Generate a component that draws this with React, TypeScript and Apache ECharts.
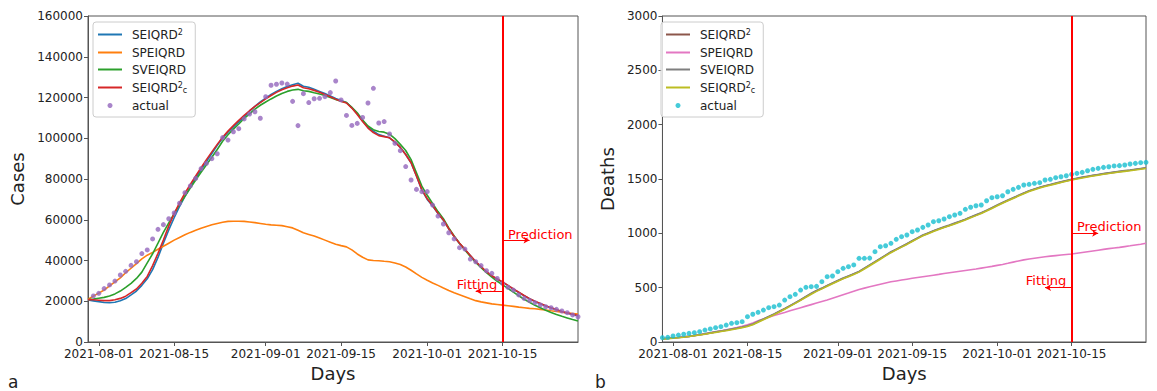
import React, { useEffect, useRef } from 'react';
import * as echarts from 'echarts';

// ---------- categories ----------
const START_UTC = Date.UTC(2021, 6, 30);
const DATES: string[] = Array.from({ length: 92 }, (_, i) =>
  new Date(START_UTC + i * 86400000).toISOString().slice(0, 10)
);
const TICK_DATES = ['2021-08-01', '2021-08-15', '2021-09-01', '2021-09-15', '2021-10-01', '2021-10-15'];
const SPLIT_DATE = '2021-10-15';

// ---------- panel a: cases ----------
const CASES_SEIQRD2 = [
  20600, 20200, 19800, 19400, 19300, 19500, 20200, 21300, 23100, 25000, 27800, 31000, 35500, 41500, 48500, 55000,
  61000, 66500, 71500, 76000, 80500, 84500, 88500, 92500, 96500, 100000, 103000, 105500, 108000, 110500, 113300, 115600,
  117800, 119700, 121500, 123000, 124300, 125400, 126300, 127000, 125500, 125000, 124000, 123000, 122000, 120800, 119500, 118500,
  117500, 115000, 112000, 108500, 105500, 103500, 101800, 101000, 100200, 98000, 95500, 92000, 88000, 81500,
  74500, 70000, 66700, 63000, 59700, 55500, 51700, 48400, 45400, 42400, 39400, 36900, 34400, 32400, 30800, 29400,
  27700, 25900, 24300, 22700, 21200, 19900, 18800, 17700, 16700, 15800, 14900, 14100, 13500, 12900,
];
const CASES_SPEIQRD = [
  21000, 22500, 24000, 25500, 27500, 29500, 31500, 34000, 36200, 38500, 40800, 42600, 44000, 45500, 47000, 48500,
  50000, 51300, 52600, 53800, 54800, 55800, 56700, 57500, 58200, 58800, 59200, 59300, 59300, 59200, 58900, 58600,
  58200, 57800, 57500, 57300, 57100, 56600, 56000, 54800, 53600, 52800, 52000, 51000, 50000, 49000, 48000, 47300,
  46700, 45200, 43200, 41600, 40300, 40000, 39900, 39600, 39400, 38800, 38000, 36800, 35200, 33400,
  31700, 30300, 29000, 27800, 26500, 25300, 24200, 23200, 22200, 21200, 20300, 19700, 19200, 18700, 18400, 18100,
  17800, 17500, 17100, 16800, 16500, 16300, 16000, 15700, 15300, 15000, 14600, 14300, 14000, 13700,
];
const CASES_SVEIQRD = [
  20800, 21100, 21500, 21900, 22600, 23600, 25000, 26800, 28800, 31200, 34300, 38800, 43300, 48500, 53800, 58500,
  63000, 67500, 71500, 75500, 79500, 83300, 87000, 90700, 94500, 98500, 101700, 104500, 107000, 109700, 112000, 114300,
  116200, 117800, 119300, 120700, 122000, 123000, 123700, 124000, 123300, 123000, 122300, 121700, 121000, 120000, 119000, 118200,
  117500, 115200, 112500, 109000, 106000, 104200, 103300, 103000, 102000, 99800, 97000, 94000, 89500, 83000,
  76500, 72000, 68000, 64000, 60500, 56000, 52000, 48500, 45200, 42000, 39000, 36500, 34000, 31800, 29800, 28000,
  26300, 24500, 22700, 21000, 19500, 18000, 16800, 15600, 14500, 13500, 12600, 11800, 11000, 10300,
];
const CASES_SEIQRD2C = [
  20800, 20700, 20500, 20300, 20300, 20700, 21400, 22500, 24200, 26000, 28800, 32200, 37500, 43500, 50000, 57000,
  63000, 68300, 73000, 77300, 81500, 85500, 89500, 93300, 97000, 100500, 103500, 106200, 108800, 111200, 113500, 115600,
  117500, 119300, 121000, 122500, 123800, 124800, 125600, 126100, 124800, 124300, 123500, 122600, 121500, 120400, 119200, 118200,
  117300, 114800, 111700, 108200, 105000, 102800, 101300, 100800, 100200, 98200, 95500, 92000, 88000, 81500,
  74800, 70300, 67000, 63200, 59900, 55600, 51800, 48500, 45500, 42500, 39500, 37000, 34500, 32500, 30900, 29500,
  27800, 26000, 24400, 22800, 21300, 20000, 18900, 17800, 16800, 15900, 15000, 14200, 13600, 13000,
];
const CASES_ACTUAL: (number | null)[] = [
  null, 22600, 23900, 26200, 28000, 29900, 32900, 34700, 37600, 39400, 43400, 45200, 50600, 55300, 57600, 60500,
  63300, 68100, 73300, 76600, 80300, 85100, 87700, 90000, 92400, 100300, 99100, 103200, 104700, 109500, 111900, 113000,
  109800, 120400, 126000, 126500, 127100, 126600, 118100, 106200, 121900, 117500, 119400, 119600, 120400, 122400, 128100, 118800,
  111200, 106300, 107300, 110200, 117300, 124500, 107500, 108200, 102100, 97500, 93900, 86100, 79500, 74900,
  73800, 73800, 67200, 61800, 57900, 53600, 50600, 46300, 45600, 40700, 39400, 37500, 35000, 33700, 31200, 28800,
  26800, 25500, 23100, 21400, 20300, 19300, 18200, 17300, 16800, 16000, 15200, 14400, 13300, 12400,
];

// ---------- panel b: deaths ----------
const DEATHS_SEIQRD2 = [
  30, 33, 37, 41, 46, 52, 59, 66, 74, 83, 92, 100, 108, 117, 126, 136, 147, 163, 187, 209, 232, 255, 280, 305,
  332, 359, 387, 417, 445, 471, 493, 517, 540, 563, 585, 605, 625, 647, 677, 707, 737, 767, 797, 827, 852, 877,
  902, 929, 955, 981, 1001, 1021, 1039, 1057, 1073, 1091, 1109, 1127, 1147, 1167, 1187, 1209, 1233, 1257, 1281, 1303,
  1325, 1347, 1369, 1389, 1405, 1421, 1435, 1447, 1459, 1471, 1483, 1494, 1504, 1514, 1523, 1531, 1539, 1547, 1554,
  1561, 1568, 1574, 1580, 1587, 1594, 1601,
];
const DEATHS_SPEIQRD = [
  30, 34, 38, 42, 47, 53, 60, 67, 75, 84, 93, 102, 112, 122, 133, 145, 158, 175, 195, 212, 228, 244, 258, 272,
  287, 302, 316, 330, 344, 358, 372, 386, 402, 418, 434, 450, 467, 484, 496, 508, 520, 532, 543, 554, 562, 570,
  578, 586, 594, 601, 608, 615, 622, 630, 637, 644, 651, 658, 665, 672, 680, 688, 696, 705, 714, 724, 735, 746,
  756, 764, 771, 778, 784, 790, 795, 800, 805, 810, 817, 824, 831, 838, 845, 852, 859, 865, 871, 878, 885, 893,
  900, 908,
];
const DEATHS_SVEIQRD = [
  30, 33, 37, 41, 46, 52, 60, 67, 75, 84, 93, 102, 110, 119, 128, 138, 149, 165, 190, 212, 235, 258, 283, 308,
  335, 362, 390, 420, 448, 474, 496, 520, 543, 566, 588, 608, 628, 650, 680, 710, 740, 770, 800, 830, 855, 880,
  905, 932, 958, 984, 1004, 1024, 1042, 1060, 1076, 1094, 1112, 1130, 1150, 1170, 1190, 1212, 1236, 1260, 1284, 1306,
  1328, 1350, 1372, 1392, 1408, 1424, 1438, 1450, 1462, 1474, 1486, 1497, 1507, 1517, 1526, 1534, 1542, 1550, 1557,
  1564, 1571, 1577, 1583, 1590, 1597, 1604,
];
const DEATHS_SEIQRD2C = [
  28, 31, 35, 39, 44, 50, 57, 64, 71, 80, 88, 96, 104, 113, 122, 132, 143, 158, 182, 205, 228, 251, 276, 301,
  328, 355, 383, 412, 440, 466, 489, 513, 536, 559, 581, 601, 621, 643, 672, 702, 732, 762, 792, 822, 848, 873,
  898, 925, 951, 977, 997, 1017, 1035, 1053, 1069, 1087, 1105, 1123, 1143, 1163, 1183, 1205, 1229, 1253, 1277, 1299,
  1321, 1343, 1365, 1385, 1401, 1417, 1431, 1443, 1455, 1467, 1479, 1490, 1500, 1510, 1519, 1527, 1535, 1543, 1550,
  1557, 1564, 1570, 1576, 1583, 1590, 1597,
];
const DEATHS_ACTUAL: (number | null)[] = [
  40, 43, 55, 64, 71, 80, 86, 95, 110, 120, 132, 141, 156, 172, 178, 187, 233, 255, 273, 294, 316, 325, 340, 386,
  417, 439, 478, 503, 509, 512, 555, 601, 607, 647, 678, 693, 709, 770, 770, 772, 831, 877, 886, 908, 945, 969,
  985, 1015, 1031, 1055, 1077, 1107, 1116, 1132, 1153, 1169, 1184, 1221, 1240, 1254, 1261, 1300, 1328, 1337, 1346, 1383,
  1405, 1423, 1445, 1451, 1460, 1466, 1491, 1497, 1512, 1521, 1530, 1543, 1552, 1561, 1576, 1589, 1598, 1607, 1613,
  1620, 1623, 1629, 1638, 1644, 1650, 1653,
];

// annotation anchors (values on the y axis)
const CASES_NOTES = { predictionArrowY: 50000, fittingArrowY: 25000, predictionTextY: 53000, fittingTextY: 28000 };
const DEATHS_NOTES = { predictionArrowY: 1000, fittingArrowY: 500, predictionTextY: 1067, fittingTextY: 570 };

const FONT = 'DejaVu Sans';
const AXIS_COLOR = '#555';
const TEXT_COLOR = '#222';
const RED = '#ff0000';

const LEGEND_LABELS: Record<string, string> = {
  SEIQRD2: 'SEIQRD{sup|2}',
  SPEIQRD: 'SPEIQRD',
  SVEIQRD: 'SVEIQRD',
  SEIQRD2c: 'SEIQRD{sup|2}{sub|c}',
  actual: 'actual',
};

const idx = (d: string) => DATES.indexOf(d);
const showTick = (_i: number, v: string) => TICK_DATES.includes(v);

type PanelCfg = {
  yName: string;
  yMax: number;
  yInterval: number;
  gridLeft: number;
  nameGap: number;
  lines: { name: string; data: number[]; color: string }[];
  actual: (number | null)[];
  actualColor: string;
  notes: typeof CASES_NOTES;
  panelLetter: string;
  letterLeft: number;
};

function makeOption(cfg: PanelCfg): any {
  const split = idx(SPLIT_DATE);
  const lineSeries = cfg.lines.map((l) => ({
    type: 'line',
    name: l.name,
    data: l.data,
    symbol: 'none',
    showSymbol: false,
    lineStyle: { width: 1.6, color: l.color },
    itemStyle: { color: l.color },
    emphasis: { disabled: true },
  }));
  const actualPairs = cfg.actual
    .map((v, i) => (v == null ? null : [i, v]))
    .filter((p) => p !== null);
  const noteLabel = {
    show: true,
    position: 'inside',
    verticalAlign: 'middle',
    color: RED,
    fontSize: 13,
    fontFamily: FONT,
  };
  return {
    animation: false,
    textStyle: { fontFamily: FONT },
    grid: {
      left: cfg.gridLeft,
      top: 16,
      width: 490,
      height: 326,
      show: true,
      borderColor: AXIS_COLOR,
      borderWidth: 1,
    },
    xAxis: {
      type: 'category',
      data: DATES,
      boundaryGap: false,
      axisLine: { show: true, lineStyle: { color: AXIS_COLOR, width: 1 } },
      axisTick: { show: true, inside: false, length: 4, interval: showTick, lineStyle: { color: AXIS_COLOR } },
      axisLabel: { interval: showTick, color: TEXT_COLOR, fontSize: 12, fontFamily: FONT, margin: 6 },
      splitLine: { show: false },
      name: 'Days',
      nameLocation: 'middle',
      nameGap: 22,
      nameTextStyle: { fontSize: 18, fontFamily: FONT, color: TEXT_COLOR },
    },
    yAxis: {
      type: 'value',
      min: 0,
      max: cfg.yMax,
      interval: cfg.yInterval,
      axisLine: { show: true, lineStyle: { color: AXIS_COLOR, width: 1 } },
      axisTick: { show: true, inside: false, length: 4, lineStyle: { color: AXIS_COLOR } },
      axisLabel: {
        color: TEXT_COLOR,
        fontSize: 12,
        fontFamily: FONT,
        margin: 5,
        formatter: (v: number) => String(v),
      },
      splitLine: { show: false },
      name: cfg.yName,
      nameLocation: 'middle',
      nameGap: cfg.nameGap,
      nameTextStyle: { fontSize: 18, fontFamily: FONT, color: TEXT_COLOR },
    },
    legend: {
      orient: 'vertical',
      left: cfg.gridLeft + 5,
      top: 22,
      data: [
        ...cfg.lines.map((l) => ({ name: l.name, itemStyle: { opacity: 0 } })),
        { name: 'actual', icon: 'circle' },
      ],
      itemWidth: 24,
      itemHeight: 5,
      itemGap: 4,
      formatter: (n: string) => LEGEND_LABELS[n] ?? n,
      textStyle: {
        fontFamily: FONT,
        fontSize: 12,
        color: TEXT_COLOR,
        lineHeight: 13,
        padding: [0, 0, 0, 5],
        rich: {
          sup: { fontSize: 8, fontFamily: FONT, color: TEXT_COLOR, verticalAlign: 'top', lineHeight: 9, padding: [0, 0, 6, 0] },
          sub: { fontSize: 8, fontFamily: FONT, color: TEXT_COLOR, verticalAlign: 'bottom', lineHeight: 9, padding: [6, 0, 0, 0] },
        },
      },
      padding: [6, 8, 5, 4],
      borderColor: '#cccccc',
      borderWidth: 1,
      borderRadius: 3,
      backgroundColor: 'rgba(255,255,255,0.8)',
      selectedMode: false,
    },
    graphic: [
      {
        type: 'text',
        left: cfg.letterLeft,
        top: 373,
        style: { text: cfg.panelLetter, fontSize: 17, fontFamily: FONT, fill: TEXT_COLOR },
      },
    ],
    series: [
      ...lineSeries,
      {
        type: 'scatter',
        name: 'actual',
        data: actualPairs,
        symbolSize: 5,
        itemStyle: { color: cfg.actualColor },
        emphasis: { disabled: true },
        z: 3,
      },
      {
        type: 'line',
        name: '__split',
        data: [],
        z: 4,
        markLine: {
          silent: true,
          animation: false,
          symbol: ['none', 'none'],
          label: { show: false },
          lineStyle: { color: RED, width: 2, type: 'solid' },
          data: [{ xAxis: split }],
        },
      },
      {
        type: 'line',
        name: '__arrows',
        data: [],
        z: 4,
        markLine: {
          silent: true,
          animation: false,
          symbol: ['none', 'arrow'],
          symbolSize: [5, 6],
          label: { show: false },
          lineStyle: { color: RED, width: 1, type: 'solid' },
          data: [
            [
              { coord: [split, cfg.notes.predictionArrowY] },
              { coord: [idx('2021-10-20'), cfg.notes.predictionArrowY] },
            ],
            [
              { coord: [split, cfg.notes.fittingArrowY] },
              { coord: [idx('2021-10-10'), cfg.notes.fittingArrowY] },
            ],
          ],
        },
        markPoint: {
          silent: true,
          animation: false,
          symbol: 'rect',
          symbolSize: 1,
          itemStyle: { color: 'rgba(0,0,0,0)' },
          data: [
            {
              coord: [idx('2021-10-16'), cfg.notes.predictionTextY],
              label: { ...noteLabel, formatter: 'Prediction', align: 'left' },
            },
            {
              coord: [idx('2021-10-14'), cfg.notes.fittingTextY],
              label: { ...noteLabel, formatter: 'Fitting', align: 'right' },
            },
          ],
        },
      },
    ],
  };
}

const CASES_CFG: PanelCfg = {
  yName: 'Cases',
  yMax: 160000,
  yInterval: 20000,
  gridLeft: 88,
  nameGap: 60,
  lines: [
    { name: 'SEIQRD2', data: CASES_SEIQRD2, color: '#1f77b4' },
    { name: 'SPEIQRD', data: CASES_SPEIQRD, color: '#ff7f0e' },
    { name: 'SVEIQRD', data: CASES_SVEIQRD, color: '#2ca02c' },
    { name: 'SEIQRD2c', data: CASES_SEIQRD2C, color: '#d62728' },
  ],
  actual: CASES_ACTUAL,
  actualColor: '#9467bd',
  notes: CASES_NOTES,
  panelLetter: 'a',
  letterLeft: 8,
};

const DEATHS_CFG: PanelCfg = {
  yName: 'Deaths',
  yMax: 3000,
  yInterval: 500,
  gridLeft: 66,
  nameGap: 45,
  lines: [
    { name: 'SEIQRD2', data: DEATHS_SEIQRD2, color: '#8c564b' },
    { name: 'SPEIQRD', data: DEATHS_SPEIQRD, color: '#e377c2' },
    { name: 'SVEIQRD', data: DEATHS_SVEIQRD, color: '#7f7f7f' },
    { name: 'SEIQRD2c', data: DEATHS_SEIQRD2C, color: '#bcbd22' },
  ],
  actual: DEATHS_ACTUAL,
  actualColor: '#17becf',
  notes: DEATHS_NOTES,
  panelLetter: 'b',
  letterLeft: 5,
};

function Panel({ cfg, style }: { cfg: PanelCfg; style: React.CSSProperties }) {
  const ref = useRef<HTMLDivElement | null>(null);
  useEffect(() => {
    if (!ref.current) return;
    const chart = echarts.init(ref.current, null, { renderer: 'svg' });
    chart.setOption(makeOption(cfg));
    return () => chart.dispose();
  }, [cfg]);
  return <div ref={ref} style={style} />;
}

export default function App() {
  return (
    <div style={{ position: 'fixed', left: 0, top: 0, width: 1157, height: 391, background: '#fff' }}>
      <Panel cfg={CASES_CFG} style={{ position: 'absolute', left: 0, top: 0, width: 590, height: 391 }} />
      <Panel cfg={DEATHS_CFG} style={{ position: 'absolute', left: 590, top: 0, width: 567, height: 391 }} />
    </div>
  );
}
